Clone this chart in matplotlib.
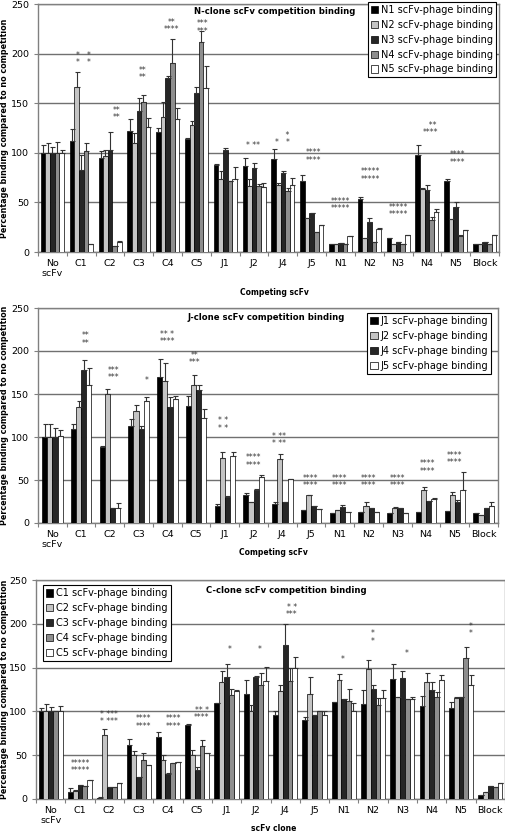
import numpy as np
import matplotlib.pyplot as plt

groups = ["No\nscFv", "C1", "C2", "C3", "C4", "C5", "J1", "J2", "J4", "J5",
          "N1", "N2", "N3", "N4", "N5", "Block"]

# N-clone panel
n_labels = ["N1 scFv-phage binding", "N2 scFv-phage binding", "N3 scFv-phage binding",
            "N4 scFv-phage binding", "N5 scFv-phage binding"]
n1 = [100, 112, 95, 122, 121, 114, 88, 87, 94, 72, 8, 53, 14, 98, 72, 8]
n2 = [100, 166, 97, 110, 136, 128, 74, 67, 68, 34, 8, 14, 8, 64, 33, 8]
n3 = [100, 83, 103, 142, 175, 160, 103, 85, 80, 39, 9, 30, 10, 63, 45, 10]
n4 = [100, 102, 6, 151, 191, 212, 72, 67, 61, 20, 8, 10, 8, 32, 16, 8]
n5 = [100, 8, 10, 126, 134, 165, 74, 66, 68, 27, 16, 23, 17, 40, 22, 17]
n1_err = [8, 12, 7, 12, 4, 1, 1, 8, 10, 6, 0, 2, 0, 10, 2, 0]
n2_err = [10, 15, 6, 10, 15, 4, 8, 7, 2, 0, 0, 0, 0, 1, 0, 0]
n3_err = [6, 15, 18, 13, 2, 6, 2, 5, 2, 0, 0, 4, 0, 5, 5, 0]
n4_err = [11, 8, 0, 7, 24, 11, 0, 2, 4, 0, 0, 0, 0, 3, 1, 0]
n5_err = [3, 0, 1, 9, 11, 22, 12, 4, 7, 0, 0, 1, 0, 3, 0, 0]
n_star_x = [1.07, 2.22, 3.12, 4.14, 5.22, 6.96, 8.0, 9.05, 9.99, 11.04, 12.01, 13.13, 14.07]
n_star_y = [186, 131, 171, 220, 218, 103, 106, 88, 39, 69, 33, 116, 86]
n_star_txt = ["*   *\n*   *", "**\n**", "**\n**", "**\n****", "***\n***", "* **",
              "    *\n*   *", "****\n****", "*****\n*****", "*****\n*****",
              "*****\n*****", "  **\n****", "****\n****"]

# J-clone panel
j_labels = ["J1 scFv-phage binding", "J2 scFv-phage binding",
            "J4 scFv-phage binding", "J5 scFv-phage binding"]
j1 = [100, 109, 88, 113, 170, 136, 20, 32, 22, 15, 12, 13, 12, 13, 14, 12]
j2 = [100, 135, 150, 130, 165, 160, 76, 24, 75, 33, 15, 20, 17, 38, 32, 9]
j4 = [100, 178, 17, 109, 135, 155, 30, 38, 24, 20, 19, 18, 18, 26, 25, 18]
j5 = [101, 161, 18, 142, 144, 122, 78, 53, 51, 16, 13, 13, 12, 28, 38, 20]
j1_err = [15, 6, 1, 8, 21, 12, 2, 3, 3, 0, 0, 0, 0, 0, 0, 0]
j2_err = [15, 7, 6, 7, 21, 12, 7, 0, 5, 0, 0, 4, 2, 4, 4, 0]
j4_err = [10, 12, 0, 4, 12, 5, 1, 1, 1, 0, 2, 0, 0, 0, 2, 0]
j5_err = [7, 19, 5, 5, 4, 11, 5, 3, 0, 0, 0, 0, 0, 1, 21, 4]
j_star_x = [1.17, 2.11, 3.29, 3.99, 4.93, 5.93, 6.98, 7.88, 8.99, 10.0, 10.98, 11.99, 13.03, 14.0]
j_star_y = [204, 164, 160, 206, 181, 105, 62, 87, 38, 38, 38, 38, 55, 65]
j_star_txt = ["**\n**", "***\n***", "*", "** *\n****", "**\n***", "* *\n* *",
              "****\n****", "* **\n* **", "****\n****", "****\n****", "****\n****",
              "****\n****", "****\n****", "****\n****"]

# C-clone panel
c_labels = ["C1 scFv-phage binding", "C2 scFv-phage binding", "C3 scFv-phage binding",
            "C4 scFv-phage binding", "C5 scFv-phage binding"]
c1 = [100, 8, 1, 62, 71, 85, 110, 120, 96, 90, 111, 108, 137, 106, 104, 5]
c2 = [100, 9, 73, 50, 45, 50, 134, 100, 123, 120, 136, 148, 117, 133, 115, 8]
c3 = [100, 16, 14, 25, 28, 33, 139, 139, 176, 96, 114, 126, 138, 124, 117, 15]
c4 = [100, 15, 14, 44, 41, 60, 119, 130, 135, 100, 112, 107, 114, 116, 161, 14]
c5 = [100, 22, 18, 39, 42, 52, 123, 135, 150, 96, 101, 115, 114, 136, 130, 18]
c1_err = [4, 4, 1, 6, 5, 1, 0, 16, 4, 4, 0, 17, 17, 12, 7, 0]
c2_err = [9, 1, 7, 5, 5, 6, 12, 7, 7, 19, 7, 11, 0, 11, 2, 0]
c3_err = [5, 0, 0, 0, 2, 4, 15, 1, 24, 0, 0, 4, 8, 10, 0, 0]
c4_err = [0, 0, 0, 8, 0, 7, 7, 14, 15, 1, 14, 8, 0, 6, 12, 0]
c5_err = [6, 0, 0, 0, 0, 0, 2, 16, 12, 4, 9, 9, 2, 5, 12, 0]
c_star_x = [1.02, 1.98, 3.16, 4.19, 5.16, 6.09, 7.12, 8.22, 9.95, 10.97, 12.16, 14.33]
c_star_y = [27, 83, 78, 78, 88, 165, 165, 205, 154, 175, 161, 184]
c_star_txt = ["*****\n*****", "* ***\n* ***", "****\n****", "****\n****", "** *\n****",
              "*", "*", "* *\n***", "*", "*\n*", "*", "*\n*"]

five_colors = ["#000000", "#c4c4c4", "#262626", "#8e8e8e", "#ffffff"]
four_colors = ["#000000", "#c4c4c4", "#262626", "#ffffff"]

plt.rcParams['font.family'] = 'DejaVu Sans'

fig = plt.figure(figsize=(5.06, 8.33), dpi=100)
W, H = 506, 833


def add_axes(left, right, top, bottom):
    return fig.add_axes([left / W, 1 - bottom / H, (right - left) / W, (bottom - top) / H])


def draw_panel(ax, series, errs, labels, colors, width, title, title_xy,
               star_x, star_y, star_txt, xlabel, legend_loc, legend_anchor):
    x = np.arange(len(groups))
    k = len(series)
    for i, (vals, err, lab, col) in enumerate(zip(series, errs, labels, colors)):
        pos = x + (i - (k - 1) / 2) * width
        ax.bar(pos, vals, width, color=col, edgecolor='black', linewidth=0.5,
               label=lab, zorder=3)
        ax.errorbar(pos, vals, yerr=[np.zeros(len(err)), err], fmt='none',
                    ecolor='#333333', elinewidth=0.8, capsize=1.8, capthick=0.8, zorder=4)
    for sx, sy, st in zip(star_x, star_y, star_txt):
        ax.text(sx, sy, st, ha='center', va='bottom', fontsize=5.5,
                linespacing=0.75, color='#333333', zorder=5)
    ax.set_xlim(-0.5, len(groups) - 0.5)
    ax.set_ylim(0, 250)
    ax.set_yticks(np.arange(0, 251, 50))
    ax.yaxis.grid(True, color='#707070', linewidth=1, zorder=0)
    ax.set_axisbelow(True)
    ax.set_xticks(np.arange(len(groups) + 1) - 0.5)
    ax.set_xticklabels([])
    ax.set_xticks(x, minor=True)
    ax.set_xticklabels(groups, minor=True, fontsize=6.8)
    ax.tick_params(axis='x', which='major', length=3, color='#808080')
    ax.tick_params(axis='x', which='minor', length=0, pad=5)
    ax.tick_params(axis='y', labelsize=6.8, length=3, color='#808080')
    for s in ax.spines.values():
        s.set_color('#808080')
        s.set_linewidth(1)
    ax.text(title_xy[0], title_xy[1], title, transform=ax.transAxes, ha='left',
            va='center', fontsize=6.1, fontweight='bold')
    ax.set_ylabel("Percentage binding compared to no competition", fontsize=5.8,
                  fontweight='bold')
    ax.set_xlabel(xlabel, fontsize=5.5, fontweight='bold')
    leg = ax.legend(loc=legend_loc, bbox_to_anchor=legend_anchor, fontsize=7,
                    frameon=True, fancybox=False, edgecolor='black', framealpha=1,
                    handlelength=0.75, handleheight=0.75, handletextpad=0.3,
                    borderpad=0.3, labelspacing=0.5, borderaxespad=0)
    leg.get_frame().set_linewidth(0.8)
    leg.set_zorder(6)


ax1 = add_axes(38, 499, 4, 252)
draw_panel(ax1, [n1, n2, n3, n4, n5], [n1_err, n2_err, n3_err, n4_err, n5_err],
           n_labels, five_colors, 0.16, "N-clone scFv competition binding", (0.338, 0.968),
           n_star_x, n_star_y, n_star_txt, "Competing scFv", 'upper right', (0.993, 1.008))
ax1.xaxis.set_label_coords(0.512, -0.145)
ax1.yaxis.set_label_coords(-0.063, 0.5)

ax2 = add_axes(38, 498, 308, 523)
draw_panel(ax2, [j1, j2, j4, j5], [j1_err, j2_err, j4_err, j5_err],
           j_labels, four_colors, 0.18, "J-clone scFv competition binding", (0.324, 0.955),
           j_star_x, j_star_y, j_star_txt, "Competing scFv", 'upper right', (0.985, 0.975))
ax2.xaxis.set_label_coords(0.512, -0.116)
ax2.yaxis.set_label_coords(-0.063, 0.5)

ax3 = add_axes(36, 505, 580, 799)
draw_panel(ax3, [c1, c2, c3, c4, c5], [c1_err, c2_err, c3_err, c4_err, c5_err],
           c_labels, five_colors, 0.165, "C-clone scFv competition binding", (0.362, 0.954),
           c_star_x, c_star_y, c_star_txt, "scFv clone", 'upper left', (0.015, 0.975))
ax3.xaxis.set_label_coords(0.506, -0.115)
ax3.yaxis.set_label_coords(-0.058, 0.5)

fig.savefig("out.png", dpi=100)
